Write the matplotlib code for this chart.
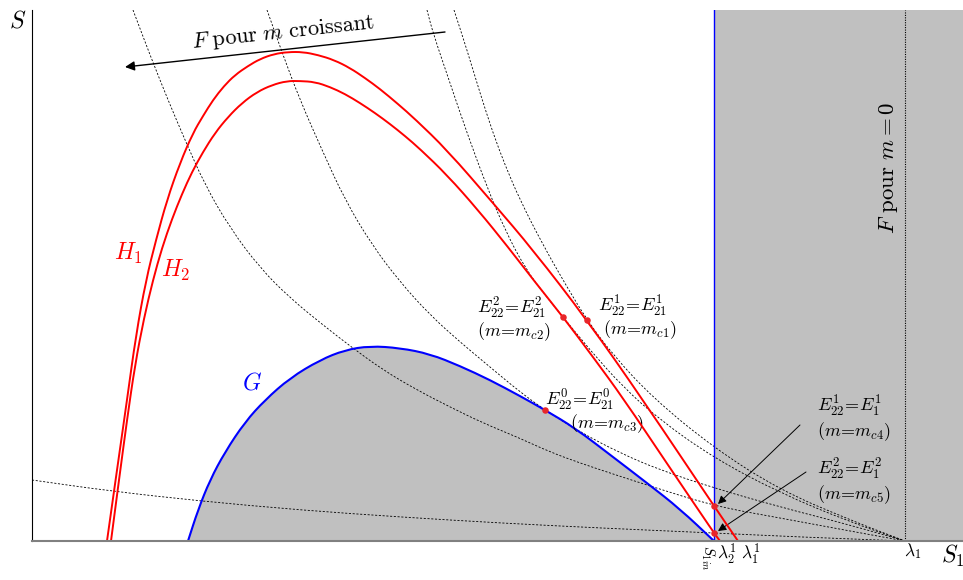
import matplotlib.pyplot as plt
from matplotlib.path import Path
from matplotlib.patches import PathPatch

plt.rcParams['mathtext.fontset'] = 'cm'

# key abscissas on the S1 axis
s1_in = 682
lam_2_1 = 688
lam_1_1 = 706
lam_1 = 873

# G (blue, region below it is grey)
G_x = [156, 166, 178, 193, 213, 233, 258, 288, 313, 338, 368, 398, 428, 458, 488, 513, 543, 581, 615, 648, 682]
G_y = [0, 31, 61, 89, 119, 141, 163, 181, 191, 195, 193, 187, 175, 161, 145, 131, 113, 84, 58, 32, 0]

# H1 and H2 (red)
H1_x = [75, 85, 95, 104, 114, 124, 135, 148, 161, 171, 181, 192, 203, 216, 228, 242, 256, 271, 286, 302, 318, 333, 348, 366, 383, 415, 461, 501, 555, 611, 682, 706]
H1_y = [0, 71, 141, 206, 261, 301, 341, 378, 408, 425, 441, 455, 466, 475, 482, 487, 489, 489, 486, 481, 473, 463, 452, 437, 422, 391, 338, 291, 221, 141, 35, 0]
H2_x = [79, 87, 95, 103, 112, 121, 130, 140, 150, 160, 171, 183, 196, 210, 225, 240, 255, 268, 283, 298, 313, 328, 343, 358, 373, 388, 415, 446, 476, 503, 531, 561, 591, 636, 682, 688]
H2_y = [0, 61, 121, 176, 223, 261, 293, 322, 347, 369, 389, 408, 424, 438, 449, 456, 460, 460, 459, 454, 447, 438, 428, 417, 405, 392, 366, 331, 294, 259, 224, 184, 143, 76, 8, 0]

# F curves for m = mc1 .. mc5
F1_x = [422, 435, 448, 461, 473, 488, 511, 535, 555, 581, 621, 682, 748, 818, 873]
F1_y = [531, 491, 448, 408, 376, 341, 296, 254, 221, 186, 143, 93, 51, 21, 0]
F2_x = [395, 401, 418, 435, 455, 473, 493, 513, 531, 558, 591, 628, 682, 748, 818, 873]
F2_y = [531, 508, 458, 408, 354, 311, 273, 246, 224, 191, 154, 121, 83, 48, 19, 0]
F3_x = [235, 251, 268, 290, 313, 340, 368, 398, 428, 458, 488, 513, 548, 588, 628, 682, 748, 818, 873]
F3_y = [531, 486, 441, 391, 341, 296, 259, 226, 199, 174, 149, 131, 109, 88, 71, 53, 34, 16, 0]
F4_x = [101, 118, 136, 153, 173, 198, 228, 258, 291, 318, 351, 385, 418, 451, 485, 518, 548, 581, 618, 682, 748, 818, 873]
F4_y = [531, 486, 441, 401, 356, 313, 273, 243, 216, 195, 171, 151, 134, 118, 104, 89, 78, 67, 55, 35, 23, 10, 0]
F5_x = [0, 78, 168, 268, 368, 468, 568, 682, 768, 873]
F5_y = [61, 50, 40, 31, 24, 18, 13, 8, 4, 0]

# equilibria (red dots)
E_x = [555, 531, 513, 682, 682]
E_y = [221, 224, 131, 35, 8]


def smooth(xs, ys, closed=False):
    # quadratic Bezier through the midpoints, the read points act as controls
    pts = list(zip(xs, ys))
    mids = [((a[0] + b[0]) / 2, (a[1] + b[1]) / 2) for a, b in zip(pts[:-1], pts[1:])]
    verts = [pts[0], mids[0]]
    codes = [Path.MOVETO, Path.LINETO]
    for p, m in zip(pts[1:-1], mids[1:]):
        verts += [p, m]
        codes += [Path.CURVE3, Path.CURVE3]
    verts.append(pts[-1])
    codes.append(Path.LINETO)
    if closed:
        verts.append(pts[0])
        codes.append(Path.CLOSEPOLY)
    return Path(verts, codes)


fig = plt.figure(figsize=(9.63, 5.80), dpi=100)
ax = fig.add_axes([32 / 963, 39 / 580, 931 / 963, 531 / 580])
ax.set_xlim(0, 931)
ax.set_ylim(0, 531)
ax.set_xticks([])
ax.set_yticks([])
for side in ['top', 'right']:
    ax.spines[side].set_visible(False)
ax.spines['left'].set_linewidth(0.8)
ax.spines['bottom'].set_color('#808080')
ax.spines['bottom'].set_linewidth(1.5)
ax.spines['bottom'].set_zorder(6)

grey = '#c0c0c0'
ax.axvspan(s1_in, 931, color=grey, lw=0, zorder=0)
ax.add_patch(PathPatch(smooth(G_x, G_y, closed=True), facecolor=grey, lw=0, zorder=0))

dash = (0, (2.5, 2))
for fx, fy in [(F1_x, F1_y), (F2_x, F2_y), (F3_x, F3_y), (F4_x, F4_y), (F5_x, F5_y)]:
    ax.add_patch(PathPatch(smooth(fx, fy), fill=False, edgecolor='black', lw=0.6, ls=dash, zorder=2))
ax.axvline(lam_1, color='black', lw=0.8, ls=(0, (1, 1.2)), zorder=2)

ax.axvline(s1_in, color='blue', lw=1.0, zorder=3)
ax.add_patch(PathPatch(smooth(G_x, G_y), fill=False, edgecolor='blue', lw=1.5, zorder=3))
ax.add_patch(PathPatch(smooth(H1_x, H1_y), fill=False, edgecolor='red', lw=1.4, zorder=4))
ax.add_patch(PathPatch(smooth(H2_x, H2_y), fill=False, edgecolor='red', lw=1.4, zorder=4))
ax.scatter(E_x, E_y, s=22, color='#e8262a', lw=0, zorder=5)

# arrow "F pour m croissant"
ax.annotate('', xy=(93, 474), xytext=(413, 509),
            arrowprops=dict(arrowstyle='-|>', color='black', lw=1.0,
                            mutation_scale=14, shrinkA=0, shrinkB=0))
ax.text(251, 508, r'$F\ \mathrm{pour}\ m\ \mathrm{croissant}$', fontsize=16,
        rotation=6.2, ha='center', va='center')

# arrows to E4 and E5
ax.annotate('', xy=(686, 37), xytext=(768, 116),
            arrowprops=dict(arrowstyle='-|>', color='black', lw=0.7,
                            mutation_scale=12, shrinkA=0, shrinkB=0))
ax.annotate('', xy=(686, 10), xytext=(774, 69),
            arrowprops=dict(arrowstyle='-|>', color='black', lw=0.7,
                            mutation_scale=12, shrinkA=0, shrinkB=0))

fs = 13
labels = [
    (445, 227, r'$E_{22}^2\!=\!E_{21}^2$'),
    (445, 205, r'$(m\!=\!m_{c2})$'),
    (566, 229, r'$E_{22}^1\!=\!E_{21}^1$'),
    (571, 207, r'$(m\!=\!m_{c1})$'),
    (513, 135, r'$E_{22}^0\!=\!E_{21}^0$'),
    (538, 113, r'$(m\!=\!m_{c3})$'),
    (785, 129, r'$E_{22}^1\!=\!E_{1}^1$'),
    (785, 105, r'$(m\!=\!m_{c4})$'),
    (785, 66, r'$E_{22}^2\!=\!E_{1}^2$'),
    (785, 42, r'$(m\!=\!m_{c5})$'),
]
for lx, ly, s in labels:
    ax.text(lx, ly, s, fontsize=fs, ha='left', va='baseline')

ax.text(96, 288, r'$H_1$', fontsize=17, color='red', ha='center', va='center')
ax.text(144, 271, r'$H_2$', fontsize=17, color='red', ha='center', va='center')
ax.text(220, 159, r'$G$', fontsize=17, color='blue', ha='center', va='center')
ax.text(856, 373, r'$F\ \mathrm{pour}\ m=0$', fontsize=16.5, rotation=90,
        ha='center', va='center')

ax.text(-14, 520, r'$S$', fontsize=17, ha='center', va='center')
ax.text(909, -15, r'$S_1$', fontsize=17, ha='left', va='center')
ax.text(s1_in - 6, -4, r'$S_{1in}$', fontsize=10.5, rotation=-90, ha='center', va='top')
ax.text(lam_2_1 + 7, -13, r'$\lambda_2^1$', fontsize=12.5, ha='center', va='center')
ax.text(lam_1_1 + 13, -13, r'$\lambda_1^1$', fontsize=12.5, ha='center', va='center')
ax.text(lam_1 + 8, -10, r'$\lambda_1$', fontsize=12.5, ha='center', va='center')

fig.savefig('out.png', dpi=100)
